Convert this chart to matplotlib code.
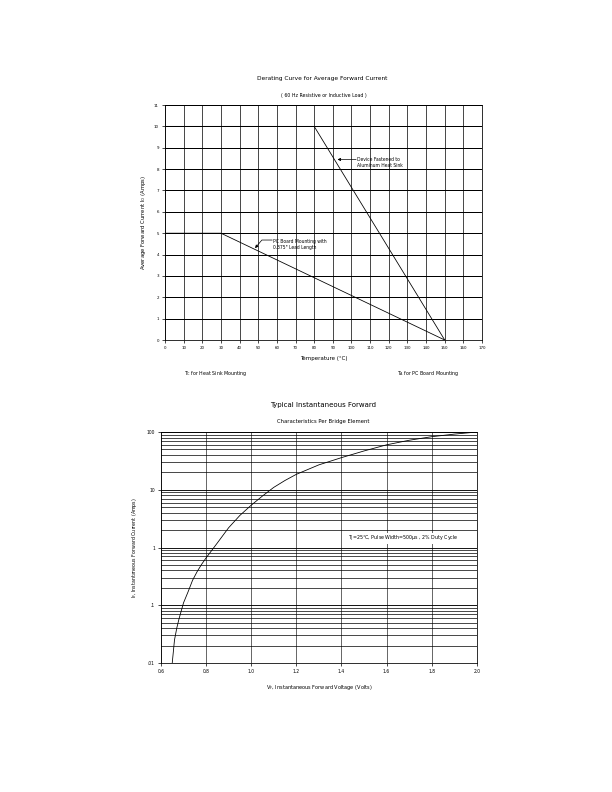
import numpy as np
import matplotlib
matplotlib.use('Agg')
import matplotlib.pyplot as plt
from matplotlib.ticker import FixedLocator, NullFormatter, FixedFormatter

plt.rcParams['font.family'] = ['Liberation Sans Narrow', 'DejaVu Sans']

# Derating curve data (temperature in degC, current in amps)
heatsink_temp = [0, 80, 150]
heatsink_amps = [10, 10, 0]
pcboard_temp = [0, 30, 150]
pcboard_amps = [5, 5, 0]
temp_ticks = list(range(0, 180, 10))
amp_ticks = list(range(0, 12))

# Forward characteristics (volts, amps)
vf = [0.65, 0.66, 0.67, 0.68, 0.69, 0.70, 0.72, 0.74, 0.76, 0.78, 0.80,
      0.85, 0.90, 0.95, 1.00, 1.05, 1.10, 1.15, 1.20, 1.30, 1.40, 1.50,
      1.60, 1.70, 1.80, 1.90, 2.00]
i_f = [0.01, 0.025, 0.04, 0.058, 0.08, 0.11, 0.17, 0.27, 0.38, 0.51, 0.66,
       1.2, 2.2, 3.6, 5.4, 7.8, 11, 14.5, 18.5, 27, 36, 47,
       60, 72, 83, 92, 100]
vf_ticks = [0.6, 0.8, 1.0, 1.2, 1.4, 1.6, 1.8, 2.0]
vf_labels = ['0.6', '0.8', '1.0', '1.2', '1.4', '1.6', '1.8', '2.0']
if_ticks = [0.01, 0.1, 1, 10, 100]
if_labels = ['.01', '.1', '1', '10', '100']

fig = plt.figure(figsize=(8.5, 11), dpi=72)

# ---------------- top chart ----------------
ax1 = fig.add_axes([0.2696, 0.5707, 0.518, 0.2967])
ax1.set_xlim(0, 170)
ax1.set_ylim(0, 11)
ax1.set_xticks(temp_ticks)
ax1.set_yticks(amp_ticks)
for t in temp_ticks:
    ax1.axvline(t, color='black', lw=0.7, zorder=1)
for a in amp_ticks:
    ax1.axhline(a, color='black', lw=1.0, zorder=1)
ax1.plot(heatsink_temp, heatsink_amps, color='black', lw=0.8, zorder=3)
ax1.plot(pcboard_temp, pcboard_amps, color='black', lw=0.8, zorder=3)
ax1.tick_params(direction='out', length=3, width=0.7, labelsize=4, pad=3)
for s in ax1.spines.values():
    s.set_linewidth(0.8)

ax1.set_ylabel(r'Average Forward Current I$_\mathregular{O}$ (Amps)', fontsize=5.2, labelpad=6)
ax1.set_xlabel('Temperature (°C)', fontsize=5.5, labelpad=6)

ax1.text(103, 8.31, 'Device Fastened to\nAluminum Heat Sink', fontsize=4.5,
         ha='left', va='center', linespacing=1.2)
ax1.annotate('', xy=(92.5, 8.45), xytext=(102.5, 8.45),
             arrowprops=dict(arrowstyle='-|>', color='black', lw=0.7,
                             mutation_scale=6, shrinkA=0, shrinkB=0))
ax1.text(58, 4.47, 'PC Board Mounting with\n0.375" Lead Length', fontsize=4.5,
         ha='left', va='center', linespacing=1.2)
ax1.annotate('', xy=(48.3, 4.3), xytext=(57.5, 4.68),
             arrowprops=dict(arrowstyle='-|>', color='black', lw=0.7,
                             mutation_scale=6, shrinkA=0, shrinkB=0,
                             connectionstyle='angle,angleA=0,angleB=50,rad=0'))

ax1.text(27, -1.55, r'T$_\mathregular{C}$ for Heat Sink Mounting', fontsize=4.8,
         ha='center', va='center')
ax1.text(141, -1.55, r'T$_\mathregular{A}$ for PC Board Mounting', fontsize=4.8,
         ha='center', va='center')

fig.text(0.527, 0.9015, 'Derating Curve for Average Forward Current', fontsize=5.9,
         ha='center', va='center')
fig.text(0.529, 0.880, '( 60 Hz Resistive or Inductive Load )', fontsize=4.8,
         ha='center', va='center')

# ---------------- bottom chart ----------------
ax2 = fig.add_axes([0.263, 0.1629, 0.516, 0.2916])
ax2.set_yscale('log')
ax2.set_xlim(0.6, 2.0)
ax2.set_ylim(0.01, 100)
ax2.set_xticks(vf_ticks)
ax2.set_xticklabels(vf_labels)
ax2.yaxis.set_major_locator(FixedLocator(if_ticks))
ax2.yaxis.set_major_formatter(FixedFormatter(if_labels))
ax2.yaxis.set_minor_formatter(NullFormatter())
ax2.tick_params(axis='y', which='minor', length=0)
ax2.tick_params(which='major', direction='out', length=3, width=0.7, labelsize=4.5, pad=3)

for v in vf_ticks:
    ax2.axvline(v, color='#444444', lw=0.8, zorder=1)
for dec in [0.01, 0.1, 1, 10]:
    for m in range(1, 10):
        ax2.axhline(dec * m, color='black', lw=0.9 if m == 1 else 0.7, zorder=1)
ax2.axhline(100, color='black', lw=0.9, zorder=1)
ax2.plot(vf, i_f, color='black', lw=0.8, zorder=3)
for s in ax2.spines.values():
    s.set_linewidth(0.8)

ax2.set_ylabel(r'I$_\mathregular{F}$, Instantaneous Forward Current (Amps)', fontsize=4.8, labelpad=8)
ax2.set_xlabel(r'V$_\mathregular{F}$, Instantaneous Forward Voltage (Volts)', fontsize=5, labelpad=9)
ax2.text(1.43, 1.43, r'T$_\mathregular{J}$=25°C, Pulse Width=500µs , 2% Duty Cycle',
         fontsize=4.8, ha='left', va='center',
         bbox=dict(facecolor='white', edgecolor='none', pad=0.6))

fig.text(0.528, 0.4885, 'Typical Instantaneous Forward', fontsize=7,
         ha='center', va='center')
fig.text(0.528, 0.468, 'Characteristics Per Bridge Element', fontsize=5.3,
         ha='center', va='center')

fig.savefig('out.png', dpi=72)
